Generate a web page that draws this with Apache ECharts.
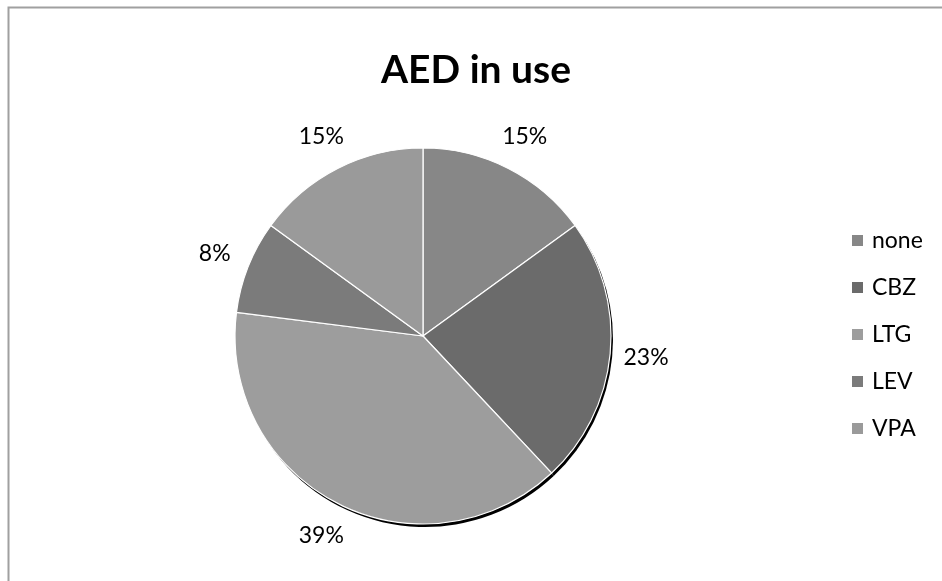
<!DOCTYPE html>
<html>
<head>
<meta charset="utf-8">
<script src="https://cdn.jsdelivr.net/npm/echarts@6/dist/echarts.min.js"></script>
<style>
html,body{margin:0;padding:0;background:#fff;}
#chart{width:942px;height:581px;}
</style>
</head>
<body>
<div id="chart"></div>
<script>
// Data (percentages as shown on the chart)
const categories = ['none', 'CBZ', 'LTG', 'LEV', 'VPA'];
const percents = [15, 23, 39, 8, 15];
const sliceColors = ['#878787', '#6b6b6b', '#9d9d9d', '#7b7b7b', '#9a9a9a'];
const titleText = 'AED in use';

const FONT = 'Lato, "Open Sans", sans-serif';
const pieData = categories.map((c, i) => ({ name: c, value: percents[i], itemStyle: { color: sliceColors[i] } }));
const shadowData = categories.map((c, i) => ({ name: c, value: percents[i] }));
const labelData = categories.map((c, i) => ({ name: c, value: percents[i] }));

const chart = echarts.init(document.getElementById('chart'), null, { renderer: 'canvas' });
chart.setOption({
  animation: false,
  backgroundColor: '#ffffff',
  graphic: [{
    type: 'rect', left: 6, top: 5, z: -10, silent: true,
    shape: { x: 0, y: 0, width: 1000, height: 1000 },
    style: { fill: 'none', stroke: '#a0a0a0', lineWidth: 2 }
  }],
  title: {
    text: titleText, left: 471, top: 46, textAlign: 'center',
    textStyle: { fontFamily: FONT, fontWeight: 'bold', fontSize: 39, color: '#000' }
  },
  legend: {
    orient: 'vertical', left: 845, top: 224, itemGap: 24,
    icon: 'rect', itemWidth: 13, itemHeight: 13,
    data: categories,
    textStyle: { fontFamily: FONT, fontSize: 23, color: '#000', padding: [0, 0, 0, 3] },
    selectedMode: false
  },
  series: [
    {
      type: 'pie', name: 'main', center: [423, 336], radius: [0, 188],
      startAngle: 90, clockwise: true, z: 3,
      data: pieData,
      itemStyle: { borderColor: '#ffffff', borderWidth: 1.2 },
      label: { show: false }, labelLine: { show: false },
      emphasis: { disabled: true }
    },
    {
      type: 'pie', name: 'shadow', center: [425, 339], radius: [0, 188],
      startAngle: 90, clockwise: true, z: 1, silent: true,
      data: shadowData,
      itemStyle: { color: '#000000', borderWidth: 0 },
      label: { show: false }, labelLine: { show: false },
      emphasis: { disabled: true }
    },
    {
      type: 'pie', name: 'labels', center: [423, 336], radius: [210, 232],
      startAngle: 90, clockwise: true, z: 4, silent: true,
      data: labelData,
      itemStyle: { color: 'rgba(0,0,0,0)', borderWidth: 0 },
      label: {
        show: true, position: 'inside', rotate: 0,
        fontFamily: FONT, fontSize: 23, color: '#000',
        formatter: p => p.value + '%'
      },
      labelLine: { show: false },
      emphasis: { disabled: true }
    }
  ]
});
</script>
</body>
</html>
